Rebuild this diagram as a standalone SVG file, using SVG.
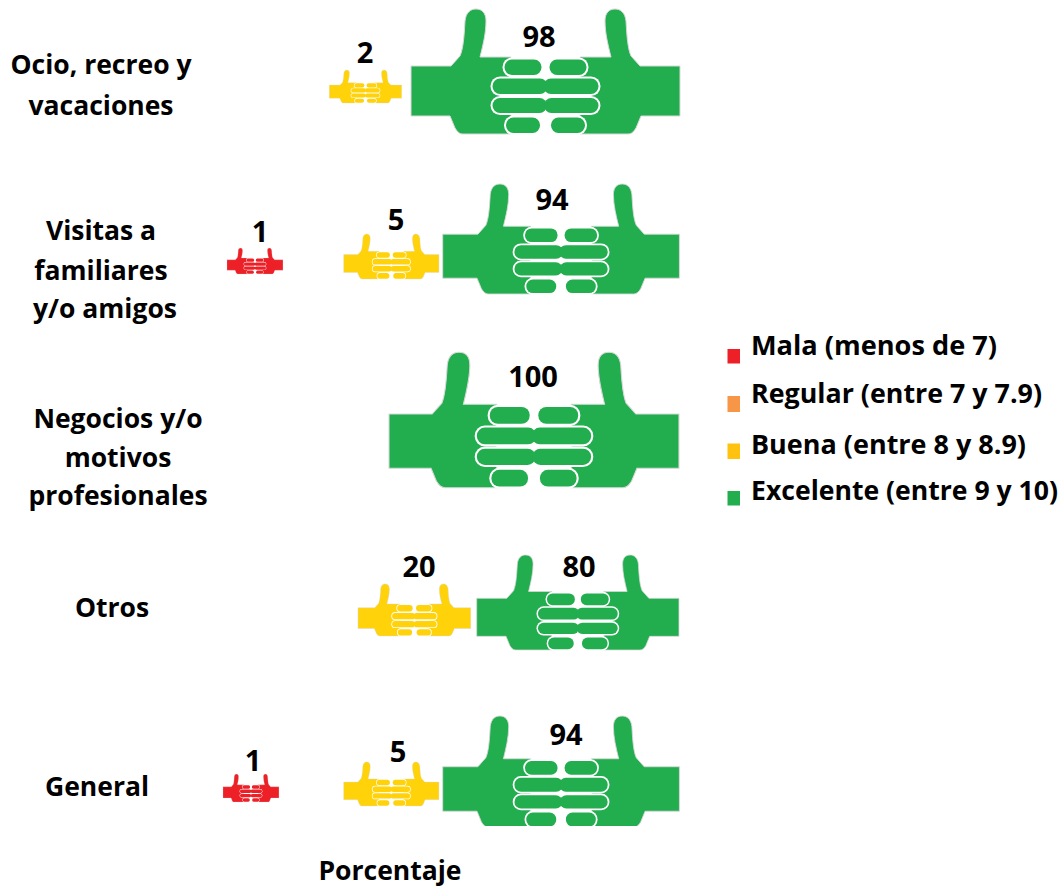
<svg xmlns="http://www.w3.org/2000/svg" width="1060" height="886" viewBox="0 0 1060 886">
<style>
text{font-family:"Open Sans","Liberation Sans",sans-serif;font-weight:700;fill:#000}
.l{font-size:26.500px;text-anchor:middle}
.n{font-size:29px;text-anchor:middle}
.k{font-size:26.500px}
.gr{fill:#22AD4E}.ye{fill:#FFD20A}.re{fill:#ED2027}
.w{fill:#fff}
.edge{stroke:#d9d9d9;stroke-width:1}
</style>
<defs>
<path id="b" class="edge" d="M0 57H40L49 47C52 40 53 30 54 12C55 3 60 0 65 0C71 0 75 4 75 12C75 24 72 36 69 48H100V125H52C48 125 46 122 44 119L39 107H0Z"/>
<g id="o"><rect x="91.500" y="48.500" width="41" height="19.500" rx="9.500"/><rect x="79.500" y="67.500" width="59" height="19.500" rx="9.500"/><rect x="79.500" y="87" width="58.500" height="19" rx="9.500"/><rect x="93" y="106.500" width="38" height="19.500" rx="9.500"/></g>
<g id="f"><rect x="93.500" y="50.500" width="37" height="15.500" rx="7.500"/><rect x="81.500" y="69.500" width="55" height="15.500" rx="7.500"/><rect x="81.500" y="89" width="54.500" height="15" rx="7.500"/><rect x="95" y="108.500" width="34" height="15.500" rx="7.500"/></g>
<g id="hands">
<use href="#b"/><use href="#b" transform="translate(269,0) scale(-1,1)"/>
<g class="w"><use href="#o"/><use href="#o" transform="translate(269,0) scale(-1,1)"/></g>
<use href="#f"/><use href="#f" transform="translate(269,0) scale(-1,1)"/>
</g>
<clipPath id="c"><rect x="430" y="700" width="260" height="126"/></clipPath>
</defs>
<g id="row-ocio">
<text class="l" x="101" y="74">Ocio, recreo y</text><text class="l" x="101" y="115">vacaciones</text>
<use href="#hands" class="ye" transform="translate(329.300,70) scale(.269,.264)"/>
<use href="#hands" class="gr" transform="translate(411,9)"/>
<text class="n" x="365" y="63">2</text><text class="n" x="539" y="47">98</text>
</g>
<g id="row-visitas">
<text class="l" x="101" y="240">Visitas a</text><text class="l" x="101" y="280">familiares</text><text class="l" x="105" y="318">y/o amigos</text>
<use href="#hands" class="re" transform="translate(227,248) scale(.208,.208)"/>
<use href="#hands" class="ye" transform="translate(343.700,234) scale(.354,.36)"/>
<use href="#hands" class="gr" transform="translate(442.700,184) scale(.88,.88)"/>
<text class="n" x="260" y="242">1</text><text class="n" x="396" y="230">5</text><text class="n" x="552" y="210">94</text>
</g>
<g id="row-negocios">
<text class="l" x="118" y="428">Negocios y/o</text><text class="l" x="118" y="467">motivos</text><text class="l" x="118" y="505">profesionales</text>
<use href="#hands" class="gr" transform="translate(389,352.300) scale(1.078,1.083)"/>
<text class="n" x="533" y="387">100</text>
</g>
<g id="row-otros">
<text class="l" x="112" y="617">Otros</text>
<use href="#hands" class="ye" transform="translate(358,584) scale(.419,.416)"/>
<use href="#hands" class="gr" transform="translate(476.700,555) scale(.752,.76)"/>
<text class="n" x="419" y="577">20</text><text class="n" x="579" y="577">80</text>
</g>
<g id="row-general">
<text class="l" x="97" y="796">General</text>
<use href="#hands" class="re" transform="translate(223,774) scale(.208,.224)"/>
<use href="#hands" class="ye" transform="translate(343.700,762) scale(.354,.352)"/>
<g clip-path="url(#c)"><use href="#hands" class="gr" transform="translate(442.700,716) scale(.88,.89)"/></g>
<text class="n" x="253" y="771">1</text><text class="n" x="398" y="762">5</text><text class="n" x="566" y="745">94</text>
</g>
<g id="axis-label"><text class="l" x="390" y="880">Porcentaje</text></g>
<g id="legend">
<rect x="727.500" y="349" width="12.500" height="14.500" fill="#ED2027"/><text class="k" x="751" y="355" textLength="246" lengthAdjust="spacingAndGlyphs">Mala (menos de 7)</text>
<rect x="727.500" y="396" width="12.500" height="16" fill="#F79646"/><text class="k" x="751" y="403" textLength="291" lengthAdjust="spacingAndGlyphs">Regular (entre 7 y 7.9)</text>
<rect x="727.500" y="443.500" width="12.500" height="15.500" fill="#FFC20E"/><text class="k" x="751" y="454" textLength="275" lengthAdjust="spacingAndGlyphs">Buena (entre 8 y 8.9)</text>
<rect x="727.500" y="491" width="12.500" height="14.500" fill="#22AD4E"/><text class="k" x="751" y="500" textLength="307" lengthAdjust="spacingAndGlyphs">Excelente (entre 9 y 10)</text>
</g>
</svg>
